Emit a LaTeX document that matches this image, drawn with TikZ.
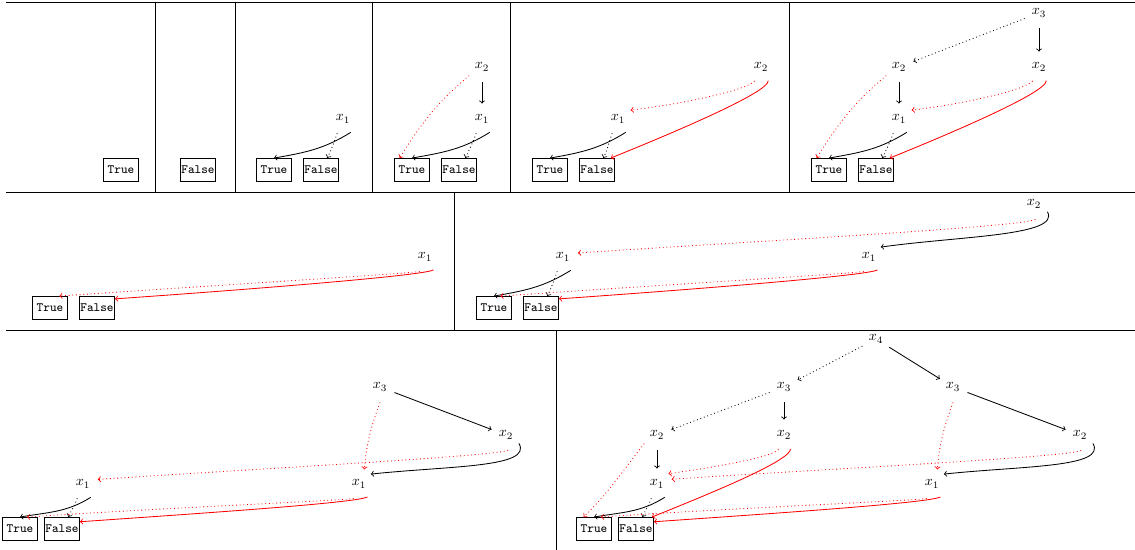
\documentclass[tikz,border=0pt]{standalone}
\begin{document}
\begin{tikzpicture}[x=0.025cm,y=-0.025cm,semithick,
    var/.style={circle,inner sep=0pt,minimum size=0.75cm},
    leaf/.style={draw,inner sep=0.5pt,minimum width=0.875cm,minimum height=0.575cm,font=\small\ttfamily},
    hi/.style={->},
    lo/.style={->,dotted},
    neg/.style={red},
    sweep/.style={out distance=0.3cm,in distance=3cm},
    swing/.style={out distance=0.7cm,in distance=2cm}]
  \useasboundingbox (0,0) rectangle (1135,550);
  % frames
  \draw (6,2) -- (1135,2) (6,192) -- (1135,192) (6,330) -- (1135,330);
  \draw (155,2) -- (155,192) (235,2) -- (235,192) (372,2) -- (372,192)
        (510,2) -- (510,192) (789,2) -- (789,192);
  \draw (454,192) -- (454,330) (556,330) -- (556,550);

  % row 1
  \node[leaf] (Ta) at (121,170) {True};
  \node[leaf] (Fb) at (198,170) {False};

  \node[leaf] (Tc) at (274,170) {True};
  \node[leaf] (Fc) at (321,170) {False};
  \node[var] (c1) at (343,119) {$x_1$};
  \draw[hi] (c1.-60) to[out=212,in=10] (Tc.north);
  \draw[lo] (c1.-112) to[out=-110,in=65] (Fc.62);

  \node[leaf] (Td) at (412,170) {True};
  \node[leaf] (Fd) at (459,170) {False};
  \node[var] (d1) at (482,119) {$x_1$};
  \node[var] (d2) at (482,67) {$x_2$};
  \draw[hi] (d1.-60) to[out=212,in=10] (Td.north);
  \draw[lo] (d1.-112) to[out=-110,in=65] (Fd.62);
  \draw[hi] (d2) -- (d1);
  \draw[lo,neg] (d2.214) to[out=220,in=58] (Td.136);

  \node[leaf] (Te) at (550,170) {True};
  \node[leaf] (Fe) at (597,170) {False};
  \node[var] (e1) at (618,119) {$x_1$};
  \node[var] (e2) at (761,67) {$x_2$};
  \draw[hi] (e1.-60) to[out=212,in=10] (Te.north);
  \draw[lo] (e1.-112) to[out=-110,in=65] (Fe.62);
  \draw[lo,neg] (e2.245) to[out=234,in=7,out distance=0.25cm,in distance=1.5cm] (e1.35);
  \draw[hi,neg] (e2.-62) to[out=-85,in=22,out distance=0.3cm,in distance=1.5cm] (Fe.41);

  \node[leaf] (Tf) at (829,170) {True};
  \node[leaf] (Ff) at (876,170) {False};
  \node[var] (f1) at (899,119) {$x_1$};
  \node[var] (f2) at (899,67) {$x_2$};
  \node[var] (f2r) at (1039,67) {$x_2$};
  \node[var] (f3) at (1039,13) {$x_3$};
  \draw[hi] (f1.-60) to[out=212,in=10] (Tf.north);
  \draw[lo] (f1.-112) to[out=-110,in=65] (Ff.62);
  \draw[hi] (f2) -- (f1);
  \draw[lo,neg] (f2.214) to[out=220,in=58] (Tf.136);
  \draw[lo,neg] (f2r.245) to[out=234,in=7,out distance=0.25cm,in distance=1.5cm] (f1.35);
  \draw[hi,neg] (f2r.-62) to[out=-85,in=22,out distance=0.3cm,in distance=1.5cm] (Ff.41);
  \draw[lo] (f3) -- (f2);
  \draw[hi] (f3) -- (f2r);

  % row 2
  \node[leaf] (Tg) at (50,308) {True};
  \node[leaf] (Fg) at (97,308) {False};
  \node[var] (g1) at (425,257) {$x_1$};
  \draw[lo,neg] (g1.250) to[out=190,in=4,sweep] (Tg.52);
  \draw[hi,neg] (g1.-57) to[out=210,in=4,sweep] (Fg.27);

  \node[leaf] (Th) at (494,308) {True};
  \node[leaf] (Fh) at (541,308) {False};
  \node[var] (h1) at (563,257) {$x_1$};
  \node[var] (h1r) at (869,257) {$x_1$};
  \node[var] (h2) at (1034,204) {$x_2$};
  \draw[hi] (h1.-60) to[out=212,in=10] (Th.north);
  \draw[lo] (h1.-112) to[out=-110,in=65] (Fh.62);
  \draw[lo,neg] (h1r.250) to[out=190,in=4,sweep] (Th.62);
  \draw[hi,neg] (h1r.-57) to[out=210,in=4,sweep] (Fh.27);
  \draw[lo,neg] (h2.-85) to[out=220,in=4,sweep] (h1.15);
  \draw[hi] (h2.-30) to[out=-60,in=8,swing] (h1r.40);

  % row 3
  \node[leaf] (Ti) at (20,529) {True};
  \node[leaf] (Fi) at (62,529) {False};
  \node[var] (i1) at (83,484) {$x_1$};
  \node[var] (i1r) at (359,484) {$x_1$};
  \node[var] (i2) at (506,435) {$x_2$};
  \node[var] (i3) at (380,387) {$x_3$};
  \draw[hi] (i1.-60) to[out=212,in=10] (Ti.north);
  \draw[lo] (i1.-112) to[out=-110,in=65] (Fi.62);
  \draw[lo,neg] (i1r.250) to[out=190,in=4,sweep] (Ti.60);
  \draw[hi,neg] (i1r.-57) to[out=210,in=4,sweep] (Fi.22);
  \draw[hi] (i3) -- (i2);
  \draw[lo,neg] (i3.-90) to[out=250,in=85] (i1r.70);
  \draw[hi] (i2.-33) to[out=-60,in=6,swing] (i1r.40);
  \draw[lo,neg] (i2.-82) to[out=210,in=4,sweep] (i1.17);

  \node[leaf] (Tj) at (594,529) {True};
  \node[leaf] (Fj) at (636,529) {False};
  \node[var] (j1) at (657,484) {$x_1$};
  \node[var] (j1r) at (932,484) {$x_1$};
  \node[var] (j2) at (657,435) {$x_2$};
  \node[var] (j2m) at (784,435) {$x_2$};
  \node[var] (j2r) at (1080,435) {$x_2$};
  \node[var] (j3) at (784,387) {$x_3$};
  \node[var] (j3r) at (953,387) {$x_3$};
  \node[var] (j4) at (876,339) {$x_4$};
  \draw[hi] (j1.-60) to[out=212,in=10] (Tj.north);
  \draw[lo] (j1.-112) to[out=-110,in=65] (Fj.62);
  \draw[lo,neg] (j1r.250) to[out=190,in=4,sweep] (Tj.60);
  \draw[hi,neg] (j1r.-57) to[out=210,in=4,sweep] (Fj.22);
  \draw[hi] (j2) -- (j1);
  \draw[lo,neg] (j2.214) to[out=232,in=45] (Tj.131);
  \draw[lo,neg] (j2m.249) to[out=232,in=8,out distance=0.25cm,in distance=1.2cm] (j1.42);
  \draw[hi,neg] (j2m.-65) to[out=-90,in=22,out distance=0.3cm,in distance=1.5cm] (Fj.37);
  \draw[hi] (j2r.-33) to[out=-60,in=6,swing] (j1r.40);
  \draw[lo,neg] (j2r.-86) to[out=215,in=4,sweep] (j1.18);
  \draw[hi] (j3) -- (j2m);
  \draw[lo] (j3) -- (j2);
  \draw[hi] (j3r) -- (j2r);
  \draw[lo,neg] (j3r.-90) to[out=250,in=85] (j1r.70);
  \draw[hi] (j4) -- (j3r);
  \draw[lo] (j4) -- (j3);
\end{tikzpicture}
\end{document}
